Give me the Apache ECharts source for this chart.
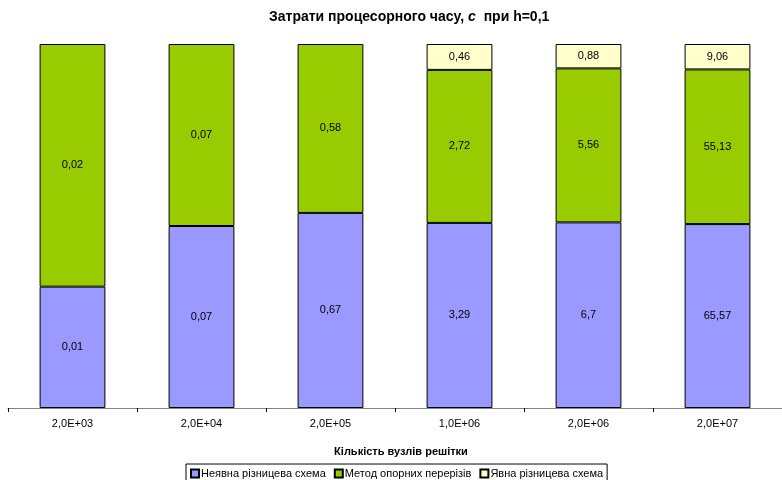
<!DOCTYPE html>
<html>
<head>
<meta charset="utf-8">
<script src="https://cdn.jsdelivr.net/npm/echarts@6/dist/echarts.min.js"></script>
<style>
    html, body { margin: 0; padding: 0; background: #fff; }
    #chart { width: 782px; height: 480px; }
</style>
</head>
<body>
<div id="chart"></div>
<script>
    // raw values shown in the labels, bars are normalised to 100% like the original stacked chart
    var categories = ['2,0E+03', '2,0E+04', '2,0E+05', '1,0E+06', '2,0E+06', '2,0E+07'];
    var implicitScheme = [0.01, 0.07, 0.67, 3.29, 6.7, 65.57];
    var supportSections = [0.02, 0.07, 0.58, 2.72, 5.56, 55.13];
    var explicitScheme = [null, null, null, 0.46, 0.88, 9.06];

    var names = ['Неявна різницева схема', 'Метод опорних перерізів', 'Явна різницева схема'];
    var colors = ['#9999FF', '#99CC00', '#FFFFCC'];
    var raw = [implicitScheme, supportSections, explicitScheme];

    var totals = categories.map(function (c, i) {
        return raw.reduce(function (s, arr) { return s + (arr[i] || 0); }, 0);
    });

    var chart = echarts.init(document.getElementById('chart'));

    var series = raw.map(function (arr, k) {
        return {
            name: names[k],
            type: 'bar',
            stack: 'all',
            barWidth: '51%',
            data: arr.map(function (v, i) {
                return v == null ? null : { value: v / totals[i] * 100, raw: v };
            }),
            itemStyle: { color: colors[k], borderColor: '#000', borderWidth: 1 },
            label: {
                show: true,
                position: 'inside',
                color: '#000',
                fontFamily: 'Arial, Liberation Sans',
                fontSize: 11,
                formatter: function (p) { return String(p.data.raw).replace('.', ','); }
            }
        };
    });

    chart.setOption({
        animation: false,
        title: {
            text: '{b|Затрати процесорного часу, }{i|c}{b|  при h=0,1}',
            left: 264,
            top: 5,
            textStyle: {
                rich: {
                    b: { fontFamily: 'Arial, Liberation Sans', fontSize: 14, fontWeight: 'bold', color: '#000' },
                    i: { fontFamily: 'Arial, Liberation Sans', fontSize: 14, fontWeight: 'bold', fontStyle: 'italic', color: '#000' }
                }
            }
        },
        legend: {
            data: names,
            top: 464,
            left: 186,
            itemWidth: 8,
            itemHeight: 8,
            itemGap: 8,
            padding: [4, 4],
            borderColor: '#000',
            borderWidth: 1,
            icon: 'rect',
            textStyle: { fontFamily: 'Arial, Liberation Sans', fontSize: 11, color: '#000', padding: [0, 0, 0, -3] }
        },
        grid: { left: 8, right: 0, top: 44, bottom: 72 },
        xAxis: {
            type: 'category',
            data: categories,
            name: 'Кількість вузлів решітки',
            nameLocation: 'middle',
            nameGap: 38,
            nameTextStyle: { fontFamily: 'Arial, Liberation Sans', fontSize: 11, fontWeight: 'bold', color: '#000', padding: [0, 0, 0, 12] },
            axisLine: { lineStyle: { color: '#808080', width: 1 } },
            axisTick: { show: true, length: 4, lineStyle: { color: '#000' } },
            axisLabel: { fontFamily: 'Arial, Liberation Sans', fontSize: 11, color: '#000', margin: 10 }
        },
        yAxis: {
            type: 'value',
            min: 0,
            max: 100,
            show: false
        },
        series: series
    });
</script>
</body>
</html>
